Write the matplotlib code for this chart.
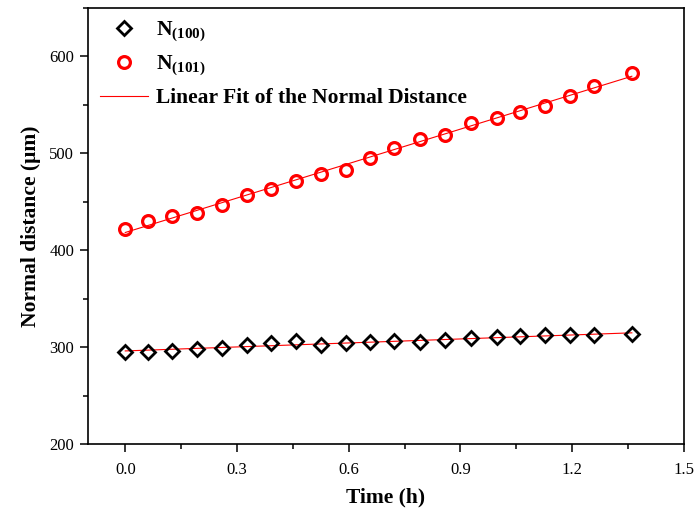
import numpy as np
import matplotlib
matplotlib.use("Agg")
import matplotlib.pyplot as plt
from matplotlib.ticker import MultipleLocator

# time (h) and normal distances (um)
time_h = [0.0, 0.060, 0.125, 0.193, 0.260, 0.326, 0.392, 0.458, 0.525, 0.592, 0.658,
          0.722, 0.792, 0.859, 0.928, 0.997, 1.059, 1.127, 1.194, 1.259, 1.360]
n100 = [295, 295, 296.5, 298, 299.5, 302, 304.5, 306.5, 302, 304, 305,
        306.5, 305, 307, 309.5, 310, 311.5, 312.5, 312, 312.5, 313.5]
n101 = [422, 430, 435, 438, 447, 457, 463, 471, 479, 483, 495,
        506, 515, 519, 531, 536, 543, 549, 559, 570, 583]
xticks = [0.0, 0.3, 0.6, 0.9, 1.2, 1.5]
xticklabels = ['0.0', '0.3', '0.6', '0.9', '1.2', '1.5']

plt.rcParams['font.family'] = ['Liberation Serif', 'DejaVu Serif']
plt.rcParams['mathtext.fontset'] = 'custom'
plt.rcParams['mathtext.rm'] = 'Liberation Serif'
plt.rcParams['mathtext.bf'] = 'Liberation Serif:bold'

fig = plt.figure(figsize=(6.97, 5.17), dpi=100)
ax = fig.add_axes([0.1263, 0.1412, 0.8550, 0.8433])

t = np.array(time_h)
# linear fits of both series
for ys in (n100, n101):
    k, b = np.polyfit(t, ys, 1)
    ax.plot(t, k * t + b, '-', color='red', lw=0.8, zorder=2)

ax.plot(time_h, n100, 'D', ms=7.5, mfc='none', mec='black', mew=2.0, zorder=3,
        label=r'N$_{\mathbf{(100)}}$')
ax.plot(time_h, n101, 'o', ms=8.5, mfc='none', mec='red', mew=2.3, zorder=3,
        label=r'N$_{\mathbf{(101)}}$')
ax.plot([], [], '-', color='red', lw=0.8, label='Linear Fit of the Normal Distance')

ax.set_xlim(-0.1, 1.5)
ax.set_ylim(200, 650)
ax.set_xticks(xticks)
ax.set_xticklabels(xticklabels)
ax.xaxis.set_minor_locator(MultipleLocator(0.15))
ax.yaxis.set_major_locator(MultipleLocator(100))
ax.yaxis.set_minor_locator(MultipleLocator(50))
ax.tick_params(which='major', direction='out', length=6, width=1.1, labelsize=12,
               colors='black')
ax.tick_params(axis='x', which='major', pad=7)
ax.tick_params(axis='y', which='major', pad=4)
ax.tick_params(which='minor', direction='out', length=3.5, width=1.1)
for s in ax.spines.values():
    s.set_linewidth(1.2)

ax.set_xlabel('Time (h)', fontsize=15.5, fontweight='bold', labelpad=7)
ax.set_ylabel('Normal distance (\u03bcm)', fontsize=15.5, fontweight='bold', labelpad=6)

leg = ax.legend(loc='upper left', frameon=False, prop={'size': 15.5, 'weight': 'bold'},
                handlelength=2.25, handletextpad=0.35, labelspacing=0.45,
                borderpad=0.4, borderaxespad=0.15)

fig.savefig('out.png', dpi=100)
